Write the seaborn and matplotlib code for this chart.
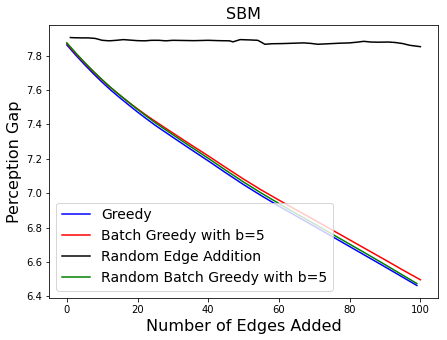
import matplotlib
matplotlib.use("Agg")
import matplotlib.pyplot as plt
import seaborn as sns

# Greedy (blue), edges 0..99
greedy_x = [0, 2.5, 5, 7.5, 10, 12.5, 15, 17.5, 20, 22.5, 25, 30, 35, 40, 45, 50, 55, 60, 65,
            70, 75, 80, 85, 90, 95, 99]
greedy_y = [7.862, 7.803, 7.748, 7.695, 7.645, 7.598, 7.555, 7.513, 7.472, 7.433, 7.395, 7.325,
            7.256, 7.188, 7.118, 7.050, 6.986, 6.925, 6.866, 6.808, 6.749, 6.690, 6.631, 6.572,
            6.512, 6.464]

# Batch Greedy with b=5 (red), edges 0..100
batch_x = [0, 2.5, 5, 7.5, 10, 12.5, 15, 17.5, 20, 22.5, 25, 30, 35, 40, 45, 50, 55, 60, 65,
           70, 75, 80, 85, 90, 95, 100]
batch_y = [7.870, 7.812, 7.758, 7.706, 7.657, 7.612, 7.570, 7.529, 7.490, 7.453, 7.418, 7.350,
           7.283, 7.217, 7.149, 7.082, 7.019, 6.960, 6.902, 6.845, 6.787, 6.729, 6.671, 6.613,
           6.554, 6.497]

# Random Edge Addition (black)
random_x = [1, 2, 4, 6, 8, 10, 12, 14, 16, 18, 20, 22, 24, 26, 28, 30, 33, 36, 40, 43, 46, 47,
            49, 52, 54, 55, 56, 58, 61, 64, 67, 69, 71, 74, 77, 80, 82, 84, 86, 88, 91, 93,
            95, 97, 100]
random_y = [7.905, 7.904, 7.903, 7.903, 7.900, 7.889, 7.886, 7.889, 7.893, 7.890, 7.887, 7.886,
            7.889, 7.889, 7.886, 7.889, 7.888, 7.887, 7.889, 7.887, 7.886, 7.880, 7.893, 7.891,
            7.889, 7.878, 7.866, 7.869, 7.870, 7.872, 7.874, 7.871, 7.866, 7.869, 7.872, 7.874,
            7.878, 7.883, 7.879, 7.878, 7.879, 7.876, 7.870, 7.860, 7.852]

# Random Batch Greedy with b=5 (green), edges 0..99
rbatch_x = [0, 2.5, 5, 7.5, 10, 12.5, 15, 17.5, 20, 22.5, 25, 30, 35, 40, 45, 50, 55, 60, 65,
            70, 75, 80, 85, 90, 95, 99]
rbatch_y = [7.874, 7.816, 7.761, 7.709, 7.660, 7.613, 7.570, 7.528, 7.487, 7.448, 7.410, 7.340,
            7.271, 7.203, 7.133, 7.065, 7.001, 6.940, 6.880, 6.822, 6.763, 6.704, 6.645, 6.585,
            6.524, 6.475]

fig, ax = plt.subplots(figsize=(447 / 72, 340 / 72), dpi=72)

sns.lineplot(x=greedy_x, y=greedy_y, color="blue", label="Greedy", ax=ax)
sns.lineplot(x=batch_x, y=batch_y, color="red", label="Batch Greedy with b=5", ax=ax)
sns.lineplot(x=random_x, y=random_y, color="black", label="Random Edge Addition", ax=ax)
sns.lineplot(x=rbatch_x, y=rbatch_y, color="green", label="Random Batch Greedy with b=5", ax=ax)

ax.set_title("SBM", fontsize=16)
ax.set_xlabel("Number of Edges Added", fontsize=16)
ax.set_ylabel("Perception Gap", fontsize=16)
ax.legend(loc="lower left", fontsize=14)

plt.subplots_adjust(left=0.11, right=0.98, top=0.926, bottom=0.124)
plt.savefig("out.png", dpi=72)
